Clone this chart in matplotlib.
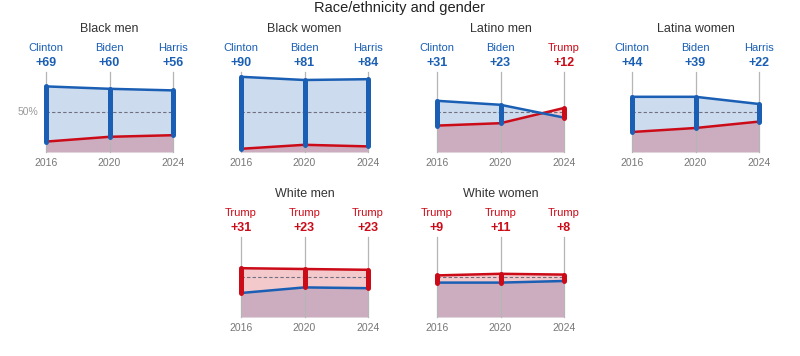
import matplotlib
matplotlib.use("Agg")
import matplotlib.pyplot as plt
import numpy as np

plt.rcParams['font.family'] = ['Liberation Sans', 'DejaVu Sans']

groups = ["Black men", "Black women", "Latino men", "Latina women", "White men", "White women"]
years = [2016, 2020, 2024]
dem_candidates = ["Clinton", "Biden", "Harris"]
rep_candidate = "Trump"
dem_share = [[82, 79, 77], [94, 90, 91], [64, 59, 43], [69, 69, 60], [30, 37, 36], [43, 43, 45]]
rep_share = [[13, 19, 21], [4, 9, 7], [33, 36, 55], [25, 30, 38], [61, 60, 59], [52, 54, 53]]
margins = [[69, 60, 56], [90, 81, 84], [31, 23, -12], [44, 39, 22], [-31, -23, -23], [-9, -11, -8]]

BLUE = "#1a5fb4"
RED = "#cc0b18"
W, H = 800, 356
fig = plt.figure(figsize=(W / 100, H / 100), dpi=100)

def fx(px):
    return px / W

def fy(py):
    return 1 - py / H

fig.text(fx(400), fy(8), "Race/ethnicity and gender", ha="center", va="center",
         fontsize=10.5, color="#222222")

lefts = [46, 241, 437, 632, 241, 437]
bottoms = [152, 152, 152, 152, 317, 317]
pw, ph = 127, 80

for i, g in enumerate(groups):
    L, B = lefts[i], bottoms[i]
    T = B - ph
    ax = fig.add_axes([fx(L), fy(B), pw / W, ph / H])
    ax.set_xlim(years[0], years[-1])
    ax.set_ylim(0, 100)
    ax.axis("off")
    d = np.array(dem_share[i])
    r = np.array(rep_share[i])
    ax.fill_between(years, 0, d, color=BLUE, alpha=0.22, lw=0, zorder=1)
    ax.fill_between(years, 0, r, color=RED, alpha=0.22, lw=0, zorder=1)
    for y in years:
        ax.plot([y, y], [0, 100], color="#b5b5b5", lw=0.9, zorder=2, clip_on=False)
    ax.plot([years[0], years[-1]], [50, 50], color="#6f6f7d", lw=0.8,
            dashes=(3, 2), zorder=3)
    ax.plot(years, r, color=RED, lw=1.8, zorder=4, clip_on=False)
    ax.plot(years, d, color=BLUE, lw=1.8, zorder=4, clip_on=False)
    for j, y in enumerate(years):
        col = BLUE if margins[i][j] > 0 else RED
        ax.plot([y, y], [r[j], d[j]], color=col, lw=3.6, solid_capstyle="round",
                zorder=5, clip_on=False)
    fig.text(fx(L + pw / 2), fy(T - 43), g, ha="center", va="center",
             fontsize=9, color="#333333")
    for j, y in enumerate(years):
        px = L + pw * j / 2
        m = margins[i][j]
        col = BLUE if m > 0 else RED
        name = dem_candidates[j] if m > 0 else rep_candidate
        fig.text(fx(px), fy(T - 24), name, ha="center", va="center",
                 fontsize=8, color=col)
        fig.text(fx(px), fy(T - 9), f"+{abs(m)}", ha="center", va="center",
                 fontsize=9, color=col, fontweight="bold")
        fig.text(fx(px), fy(B + 11), str(y), ha="center", va="center",
                 fontsize=7.5, color="#777777")
    if i == 0:
        fig.text(fx(38), fy(B - ph / 2), "50%", ha="right", va="center",
                 fontsize=7.5, color="#999999")

fig.savefig("out.png", dpi=100)
